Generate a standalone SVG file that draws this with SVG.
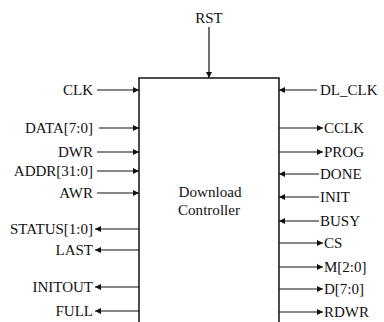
<svg xmlns="http://www.w3.org/2000/svg" width="384" height="322" viewBox="0 0 384 322">
<defs>
<marker id="ah" viewBox="0 0 10 10" refX="10" refY="5" markerWidth="9" markerHeight="6" markerUnits="userSpaceOnUse" orient="auto">
<path d="M0,0 L10,5 L0,10 Z" fill="#111"/>
</marker>
</defs>
<style>
text{font-family:"Liberation Serif","Times New Roman",serif;font-size:15px;fill:#111}
.l{text-anchor:end}
.c{text-anchor:middle}
line{stroke:#111;stroke-width:1.2;marker-end:url(#ah)}
.box{fill:#fff;stroke:#111;stroke-width:1.5}
</style>
<rect width="384" height="322" fill="#fff"/>
<g id="controller">
<rect class="box" x="139" y="78" width="140" height="260"/>
<text class="c" x="210" y="197" textLength="63" lengthAdjust="spacingAndGlyphs">Download</text>
<text class="c" x="209" y="215" textLength="62" lengthAdjust="spacingAndGlyphs">Controller</text>
</g>
<g id="labels">
<text class="c" x="209" y="23">RST</text>
<text class="l" x="93" y="95">CLK</text>
<text class="l" x="93" y="133">DATA[7:0]</text>
<text class="l" x="93" y="157">DWR</text>
<text class="l" x="93" y="176">ADDR[31:0]</text>
<text class="l" x="93" y="198">AWR</text>
<text class="l" x="93" y="234">STATUS[1:0]</text>
<text class="l" x="93" y="255">LAST</text>
<text class="l" x="93" y="292">INITOUT</text>
<text class="l" x="93" y="316">FULL</text>
<text x="320" y="95">DL_CLK</text>
<text x="324" y="133">CCLK</text>
<text x="324" y="157">PROG</text>
<text x="320" y="179">DONE</text>
<text x="320" y="202">INIT</text>
<text x="320" y="226">BUSY</text>
<text x="324" y="248">CS</text>
<text x="324" y="272">M[2:0]</text>
<text x="324" y="294">D[7:0]</text>
<text x="324" y="317">RDWR</text>
</g>
<g id="connectors">
<line x1="209" y1="27" x2="209" y2="78"/>
<line x1="97" y1="90" x2="139" y2="90"/>
<line x1="99" y1="128" x2="139" y2="128"/>
<line x1="97" y1="152" x2="139" y2="152"/>
<line x1="97" y1="171" x2="139" y2="171"/>
<line x1="97" y1="193" x2="139" y2="193"/>
<line x1="139" y1="229" x2="95" y2="229"/>
<line x1="139" y1="250" x2="95" y2="250"/>
<line x1="139" y1="287" x2="95" y2="287"/>
<line x1="139" y1="311" x2="95" y2="311"/>
<line x1="317" y1="90" x2="279" y2="90"/>
<line x1="279" y1="128" x2="323" y2="128"/>
<line x1="279" y1="152" x2="323" y2="152"/>
<line x1="319" y1="174" x2="279" y2="174"/>
<line x1="319" y1="197" x2="279" y2="197"/>
<line x1="319" y1="221" x2="279" y2="221"/>
<line x1="279" y1="243" x2="323" y2="243"/>
<line x1="279" y1="267" x2="323" y2="267"/>
<line x1="279" y1="289" x2="323" y2="289"/>
<line x1="279" y1="312" x2="323" y2="312"/>
</g>
</svg>
